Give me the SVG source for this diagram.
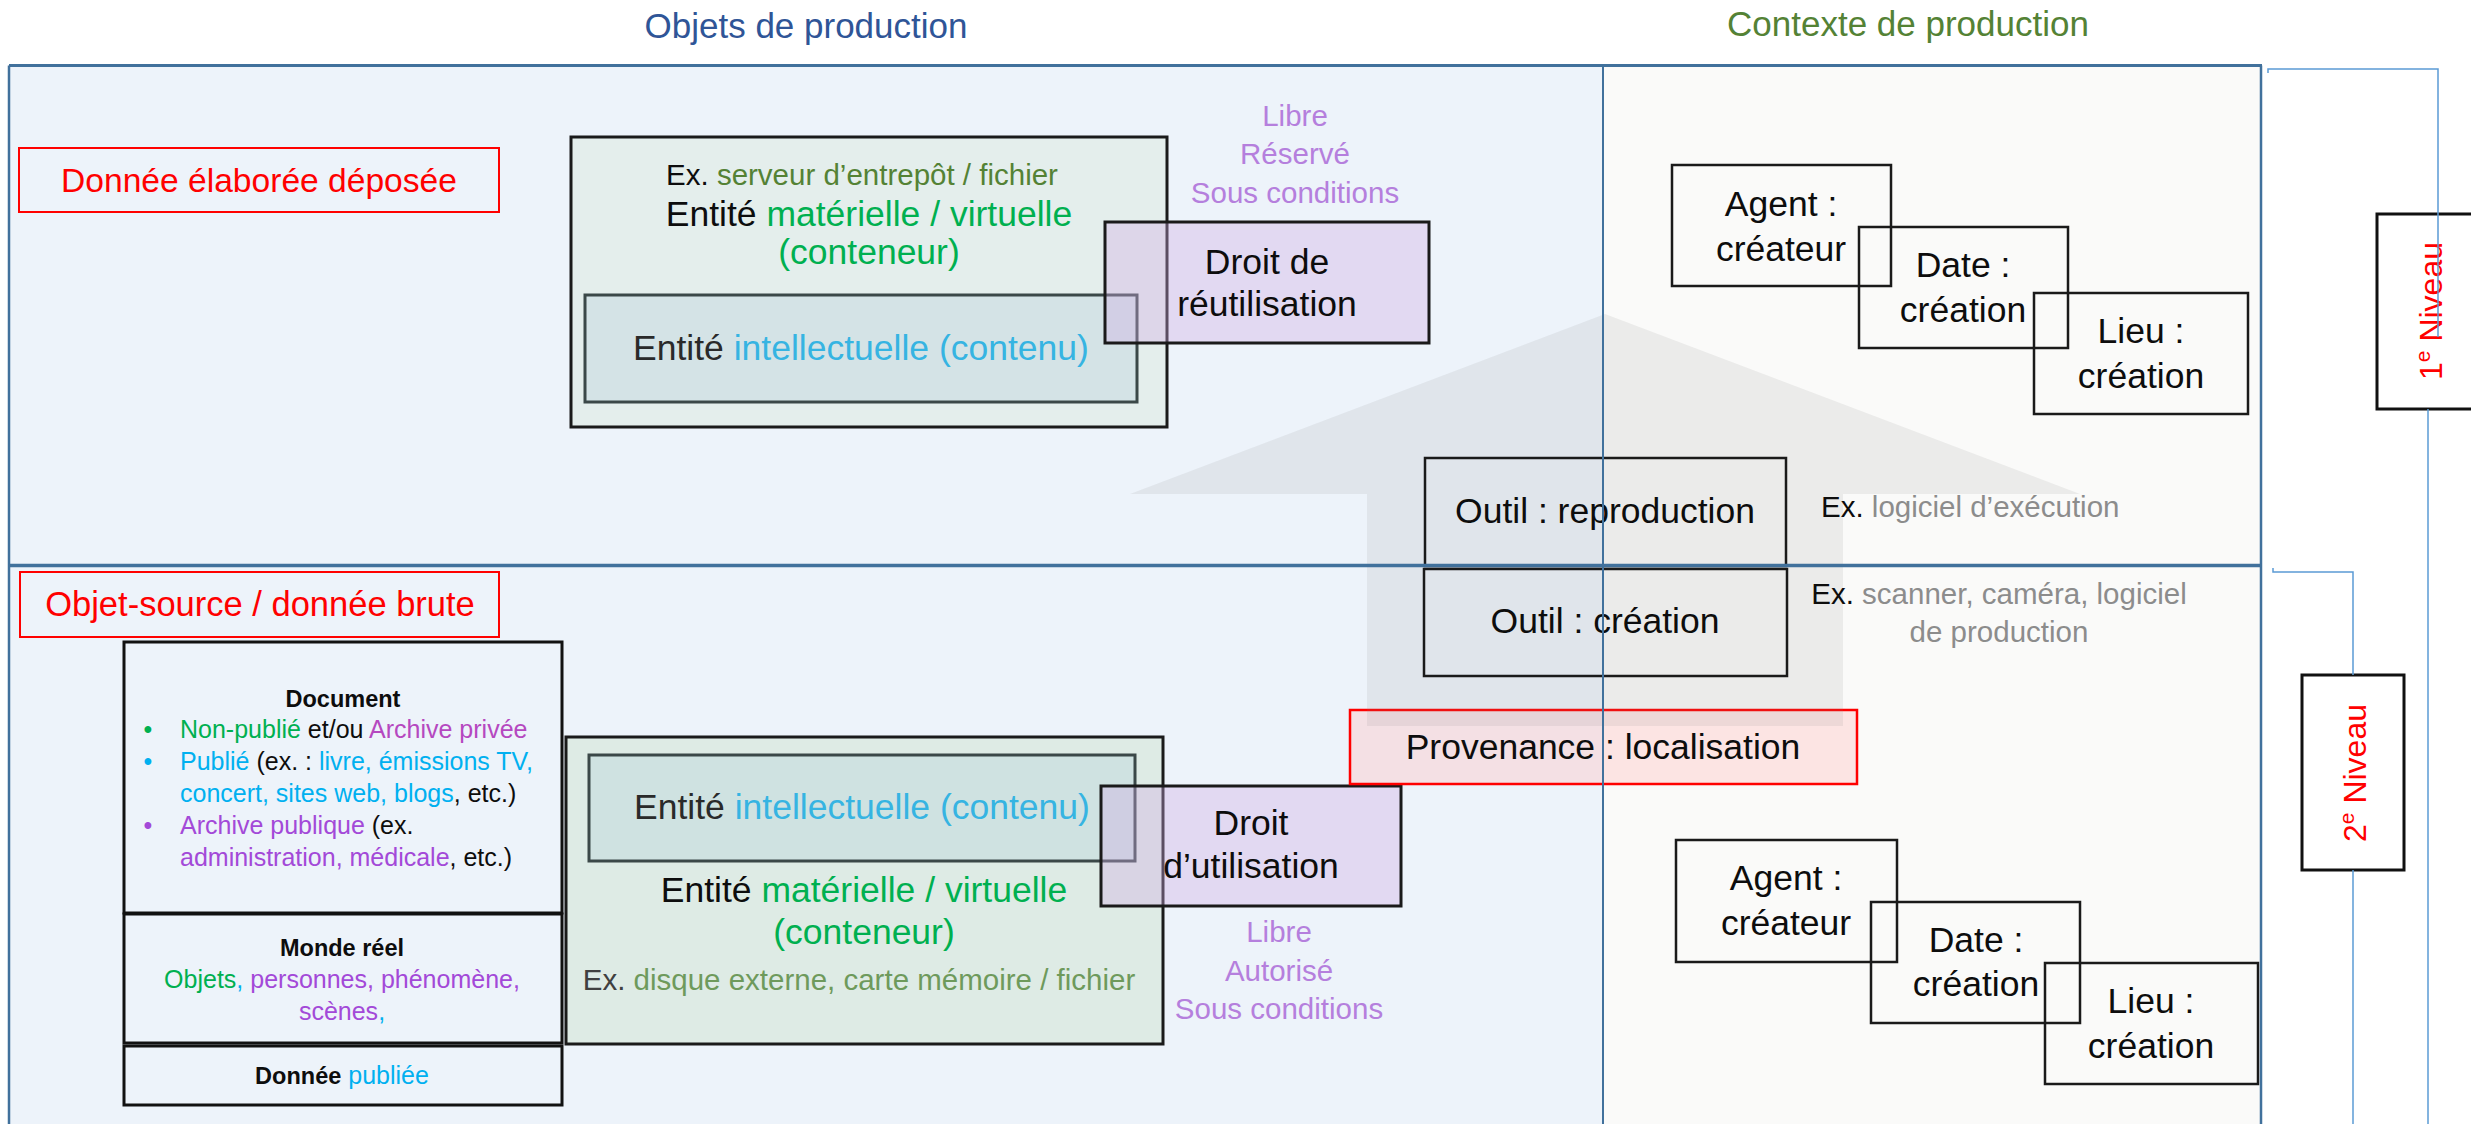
<svg xmlns="http://www.w3.org/2000/svg" width="2471" height="1124" viewBox="0 0 2471 1124">
<style>
text { font-family: "Liberation Sans", Arial, sans-serif; fill: #0d0d0d; }
.m { font-size: 35.5px; }
.s { font-size: 29.5px; }
.d { font-size: 25px; }
.b { font-weight: bold; }
.c { text-anchor: middle; }
.t { font-size: 35px; }
.red { fill: #FF0000; }
.grn { fill: #00B050; }
.blu { fill: #00B0F0; }
.cyan { fill: #36B4E2; }
.pur { fill: #A349D8; }
.mag { fill: #B548C0; }
.lav { fill: #B57FDD; }
.gry { fill: #8C8C8C; }
.olv { fill: #548235; }
.box { fill: none; stroke: #1a1a1a; stroke-width: 2.5; }
.rbox { fill: none; stroke: #FF0000; stroke-width: 2; }
.cont { stroke: #1a1a1a; stroke-width: 3; }
.inner { stroke: #3b4848; stroke-width: 3; }
.droit { fill: rgb(208,171,227); fill-opacity: 0.36; stroke: #1a1a1a; stroke-width: 3; }
.doc { fill: none; stroke: #111; stroke-width: 3; }
.niv { fill: #ffffff; stroke: #111; stroke-width: 3; }
.frame { stroke: #41719C; fill: none; }
.br { stroke: #5B9BD5; stroke-width: 1.5; fill: none; }
</style>

<g id="panels">
  <rect x="9" y="65.5" width="1594" height="1070" fill="#EDF3FA"/>
  <rect x="1603" y="65.5" width="658" height="1070" fill="#FAFAF9"/>
</g>

<g id="titles">
  <text class="t c" x="806" y="38" style="fill:#2F5597">Objets de production</text>
  <text class="t c" x="1908" y="36" style="fill:#548235">Contexte de production</text>
</g>

<!-- Upper level -->
<g id="donnee-elaboree">
  <rect class="rbox" x="19" y="148" width="480" height="64"/>
  <text class="c red" x="259" y="192" style="font-size:33.6px">Donnée élaborée déposée</text>
</g>

<g id="conteneur-haut">
  <rect class="cont" x="571" y="137" width="596" height="290" fill="#E4EEEC"/>
  <text class="s c" x="862" y="185">Ex. <tspan class="olv">serveur d’entrepôt / fichier</tspan></text>
  <text class="m c" x="869" y="226">Entité <tspan class="grn">matérielle / virtuelle</tspan></text>
  <text class="m c grn" x="869" y="264">(conteneur)</text>
</g>

<g id="contenu-haut">
  <rect class="inner" x="585" y="295" width="552" height="107" fill="#D4E3E6"/>
  <text class="m c" x="861" y="360" style="fill:#2a2a2a">Entité <tspan class="cyan">intellectuelle (contenu)</tspan></text>
</g>

<g id="droit-reutilisation">
  <rect class="droit" x="1105" y="222" width="324" height="121"/>
  <text class="m c" x="1267" y="274">Droit de</text>
  <text class="m c" x="1267" y="316">réutilisation</text>
</g>

<g id="options-reutilisation">
  <text class="s c lav" x="1295" y="126">Libre</text>
  <text class="s c lav" x="1295" y="164">Réservé</text>
  <text class="s c lav" x="1295" y="203">Sous conditions</text>
</g>

<g id="agent-haut">
  <rect class="box" x="1672" y="165" width="219" height="121"/>
  <text class="m c" x="1781" y="216">Agent :</text>
  <text class="m c" x="1781" y="261">créateur</text>
</g>
<g id="date-haut">
  <rect class="box" x="1859" y="227" width="209" height="121"/>
  <text class="m c" x="1963" y="277">Date :</text>
  <text class="m c" x="1963" y="322">création</text>
</g>
<g id="lieu-haut">
  <rect class="box" x="2034" y="293" width="214" height="121"/>
  <text class="m c" x="2141" y="343">Lieu :</text>
  <text class="m c" x="2141" y="388">création</text>
</g>

<!-- Lower level -->
<g id="objet-source">
  <rect class="rbox" x="20" y="572" width="479" height="65"/>
  <text class="c red" x="260" y="616" style="font-size:34.5px">Objet-source / donnée brute</text>
</g>

<g id="document">
  <rect class="doc" x="124" y="642" width="438" height="271"/>
  <text class="d b c" x="343" y="707" style="font-size:23.5px">Document</text>
  <text class="d c grn" x="148" y="738">•</text>
  <text class="d" x="180" y="738"><tspan class="grn">Non-publié</tspan> et/ou <tspan class="mag">Archive privée</tspan></text>
  <text class="d c blu" x="148" y="770">•</text>
  <text class="d" x="180" y="770"><tspan class="blu">Publié</tspan> (ex. : <tspan class="blu">livre, émissions TV,</tspan></text>
  <text class="d" x="180" y="802"><tspan class="blu">concert, sites web, blogs</tspan>, etc.)</text>
  <text class="d c pur" x="148" y="834">•</text>
  <text class="d" x="180" y="834"><tspan class="pur">Archive publique</tspan> (ex.</text>
  <text class="d" x="180" y="866"><tspan class="pur">administration, médicale</tspan>, etc.)</text>
</g>

<g id="monde-reel">
  <rect class="doc" x="124" y="914" width="438" height="129"/>
  <text class="d b c" x="342" y="956" style="font-size:23.5px">Monde réel</text>
  <text class="d c" x="342" y="988"><tspan class="grn">Objets</tspan><tspan class="blu">, </tspan><tspan class="pur">personnes, phénomène,</tspan></text>
  <text class="d c" x="342" y="1020"><tspan class="pur">scènes</tspan><tspan class="blu">,</tspan></text>
</g>

<g id="donnee-publiee">
  <rect class="doc" x="124" y="1046" width="438" height="59"/>
  <text class="d c" x="342" y="1084"><tspan class="b" style="font-size:23.5px">Donnée</tspan> <tspan class="blu">publiée</tspan></text>
</g>

<g id="conteneur-bas">
  <rect class="cont" x="566" y="737" width="597" height="307" fill="#DEEBE5"/>
  <text class="m c" x="864" y="902">Entité <tspan class="grn">matérielle / virtuelle</tspan></text>
  <text class="m c grn" x="864" y="944">(conteneur)</text>
  <text class="s c" x="859" y="990" style="fill:#404040">Ex. <tspan style="fill:#6E9A5C">disque externe, carte mémoire / fichier</tspan></text>
</g>

<g id="contenu-bas">
  <rect class="inner" x="589" y="755" width="546" height="106" fill="#CFE2E1"/>
  <text class="m c" x="862" y="819" style="fill:#2a2a2a">Entité <tspan class="cyan">intellectuelle (contenu)</tspan></text>
</g>

<g id="droit-utilisation">
  <rect class="droit" x="1101" y="786" width="300" height="120"/>
  <text class="m c" x="1251" y="835">Droit</text>
  <text class="m c" x="1251" y="878">d’utilisation</text>
</g>

<g id="options-utilisation">
  <text class="s c lav" x="1279" y="942">Libre</text>
  <text class="s c lav" x="1279" y="981">Autorisé</text>
  <text class="s c lav" x="1279" y="1019">Sous conditions</text>
</g>

<g id="provenance">
  <rect x="1350" y="710" width="507" height="74" fill="#FFC3C3" fill-opacity="0.4" stroke="#FF0000" stroke-width="2.5"/>
  <text class="m c" x="1603" y="759">Provenance : localisation</text>
</g>

<g id="fleche">
  <polygon points="1605,314 2080,494 1843,494 1843,726 1367,726 1367,494 1130,494" fill="#808080" fill-opacity="0.12"/>
</g>

<g id="outil-reproduction">
  <rect class="box" x="1425" y="458" width="361" height="108"/>
  <text class="m c" x="1605" y="523">Outil : reproduction</text>
</g>
<g id="ex-reproduction">
  <text class="s" x="1821" y="517">Ex. <tspan class="gry">logiciel d’exécution</tspan></text>
</g>

<g id="outil-creation">
  <rect class="box" x="1424" y="569" width="363" height="107"/>
  <text class="m c" x="1605" y="633">Outil : création</text>
</g>
<g id="ex-creation">
  <text class="s c" x="1999" y="604">Ex. <tspan class="gry">scanner, caméra, logiciel</tspan></text>
  <text class="s c gry" x="1999" y="642">de production</text>
</g>

<g id="agent-bas">
  <rect class="box" x="1676" y="840" width="221" height="122"/>
  <text class="m c" x="1786" y="890">Agent :</text>
  <text class="m c" x="1786" y="935">créateur</text>
</g>
<g id="date-bas">
  <rect class="box" x="1871" y="902" width="209" height="121"/>
  <text class="m c" x="1976" y="952">Date :</text>
  <text class="m c" x="1976" y="996">création</text>
</g>
<g id="lieu-bas">
  <rect class="box" x="2045" y="963" width="213" height="121"/>
  <text class="m c" x="2151" y="1013">Lieu :</text>
  <text class="m c" x="2151" y="1058">création</text>
</g>

<g id="frame" class="frame">
  <line x1="9" y1="65.5" x2="2262" y2="65.5" stroke-width="3"/>
  <line x1="9" y1="65.5" x2="9" y2="1124" stroke-width="2.5"/>
  <line x1="1603" y1="65.5" x2="1603" y2="1124" stroke-width="2"/>
  <line x1="2261" y1="65.5" x2="2261" y2="1124" stroke-width="2.5"/>
  <line x1="9" y1="565.5" x2="2262" y2="565.5" stroke-width="3.5"/>
</g>

<g id="niveau-1">
  <rect class="niv" x="2377" y="214" width="103" height="195"/>
  <text class="red c" transform="translate(2442,311) rotate(-90)" style="font-size:32px">1<tspan style="font-size:21px" dy="-12">e</tspan><tspan dy="12"> Niveau</tspan></text>
</g>
<g id="niveau-2">
  <rect class="niv" x="2302" y="675" width="102" height="195"/>
  <text class="red c" transform="translate(2366,773) rotate(-90)" style="font-size:32px">2<tspan style="font-size:21px" dy="-12">e</tspan><tspan dy="12"> Niveau</tspan></text>
</g>

<g id="connecteurs" class="br">
  <path d="M2268,73 V69 H2438 V337"/>
  <path d="M2428,409 V1124"/>
  <path d="M2273,568 V572 H2353 V675"/>
  <path d="M2353,870 V1124"/>
</g>
</svg>
